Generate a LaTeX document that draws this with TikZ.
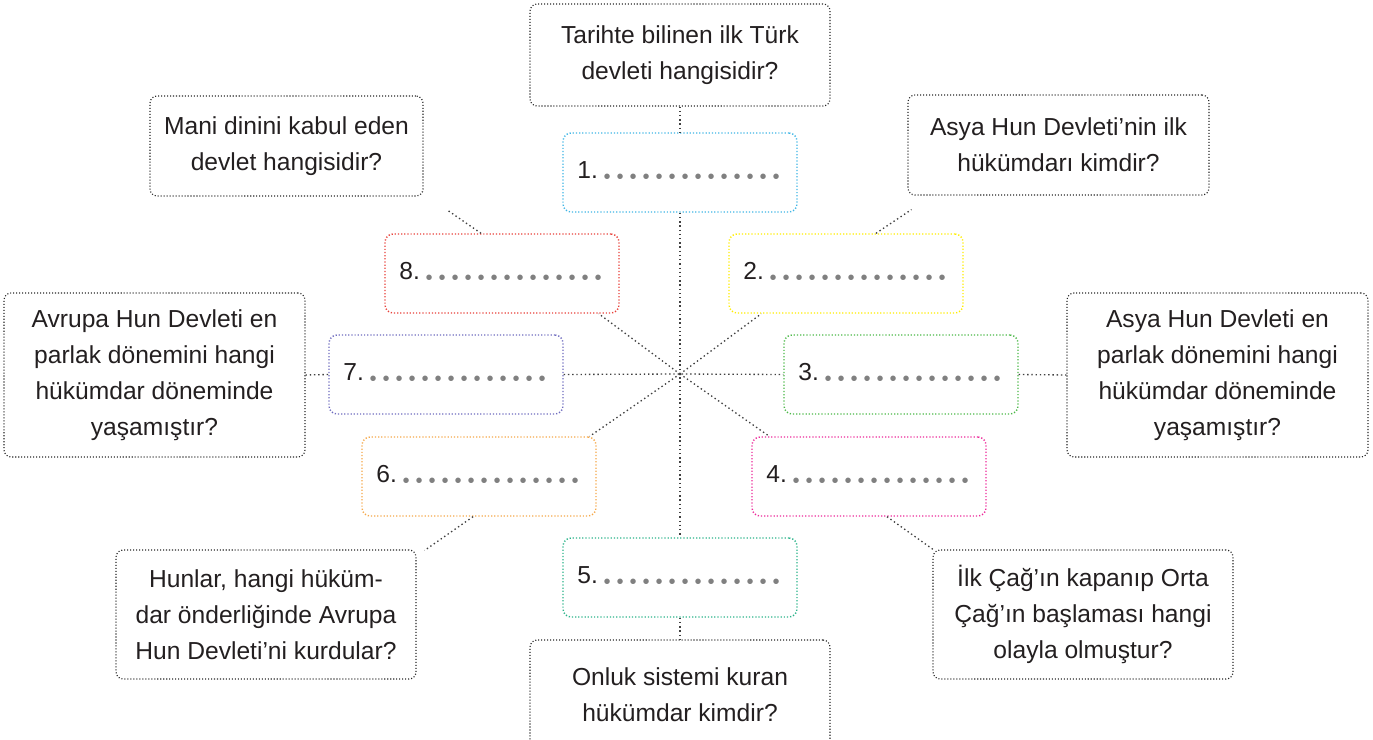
\documentclass[tikz,border=0pt]{standalone}
\usepackage{fontspec}
\setmainfont{Liberation Sans}
\usetikzlibrary{calc}
\definecolor{txtgray}{HTML}{231F20}
\definecolor{dotgray}{HTML}{808080}
\definecolor{bcyan}{HTML}{3FB5E5}
\definecolor{byellow}{HTML}{FFED00}
\definecolor{bgreen}{HTML}{4CB848}
\definecolor{bmagenta}{HTML}{EC2A9A}
\definecolor{bteal}{HTML}{2BB38A}
\definecolor{borange}{HTML}{F5A84A}
\definecolor{bpurple}{HTML}{6F6CBF}
\definecolor{bred}{HTML}{E8413A}
\newcommand{\dotrow}{{\color{dotgray}\foreach \k in {1,...,14}{\makebox[7.4pt]{\raisebox{-2.8pt}{\fontsize{11.5}{11.5}\selectfont\textbullet}}}}}
\newcommand{\blank}[1]{#1.\hspace{1.5pt}\dotrow}

\begin{document}
\begin{tikzpicture}[x=0.02cm, y=-0.02cm, font=\fontsize{14}{20.5}\selectfont, text=txtgray,
 qbox/.style={draw=black!85, dash pattern=on 0.6pt off 1.1pt, line width=0.65pt, rounded corners=0.14cm, align=center, inner sep=0pt},
 abox/.style={draw=#1, dash pattern=on 0.7pt off 1.1pt, line width=0.8pt, rounded corners=0.16cm, minimum width=4.68cm, minimum height=1.58cm, inner sep=0pt},
 link/.style={draw=black!75, dash pattern=on 0.8pt off 1.6pt, line width=0.75pt}]
 \useasboundingbox (0,0) rectangle (1373,740);
 \clip (0,0) rectangle (1373,740);
 \coordinate (c) at (680,374);
 \node[qbox, minimum width=6cm, minimum height=2.04cm] (q1) at (680,55) {Tarihte bilinen ilk Türk\\devleti hangisidir?};
 \node[qbox, minimum width=5.46cm, minimum height=2cm] (q8) at (286.5,146) {Mani dinini kabul eden\\devlet hangisidir?};
 \node[qbox, minimum width=6.02cm, minimum height=2cm] (q2) at (1058.5,145) {Asya Hun Devleti’nin ilk\\hükümdarı kimdir?};
 \node[qbox, minimum width=6.02cm, minimum height=3.28cm] (q7) at (154.5,375) {Avrupa Hun Devleti en\\parlak dönemini hangi\\hükümdar döneminde\\yaşamıştır?};
 \node[qbox, minimum width=6.02cm, minimum height=3.28cm] (q3) at (1217.5,375) {Asya Hun Devleti en\\parlak dönemini hangi\\hükümdar döneminde\\yaşamıştır?};
 \node[qbox, minimum width=6cm, minimum height=2.58cm] (q6) at (266,614.5) {Hunlar, hangi hüküm-\\dar önderliğinde Avrupa\\Hun Devleti’ni kurdular?};
 \node[qbox, minimum width=6cm, minimum height=2.58cm] (q4) at (1083,614.5) {İlk Çağ’ın kapanıp Orta\\Çağ’ın başlaması hangi\\olayla olmuştur?};
 \node[qbox, minimum width=6cm, minimum height=2.2cm] (q5) at (680,695) {Onluk sistemi kuran\\hükümdar kimdir?};
 \node[abox=bcyan] (a1) at (680,172.5) {\blank{1}};
 \node[abox=byellow] (a2) at (846,273.5) {\blank{2}};
 \node[abox=bgreen] (a3) at (901,374.5) {\blank{3}};
 \node[abox=bmagenta] (a4) at (869,476.5) {\blank{4}};
 \node[abox=bteal] (a5) at (680,577.5) {\blank{5}};
 \node[abox=borange] (a6) at (479,476.5) {\blank{6}};
 \node[abox=bpurple] (a7) at (446,374.5) {\blank{7}};
 \node[abox=bred] (a8) at (502,273.5) {\blank{8}};
 \draw[link] (q1) -- (a1);
 \draw[link] (a1) -- (c) -- (a5);
 \draw[link] (a5) -- (q5);
 \draw[link] (a7.east) -- (c) -- (a3.west);
 \draw[link] (q7.east) -- (a7.west);
 \draw[link] (a3.east) -- (q3.west);
 \draw[link] (c) -- ($(a2.south west)+(33,0)$);
 \draw[link] (c) -- ($(a8.south east)+(-21,0)$);
 \draw[link] (c) -- ($(a6.north east)+(-7,0)$);
 \draw[link] (c) -- ($(a4.north west)+(18,0)$);
 \draw[link] ($(a2.north)+(30,0)$) -- ($(q2.south west)+(4,14)$);
 \draw[link] ($(a8.north)+(-21,0)$) -- ($(q8.south east)+(23,13)$);
 \draw[link] ($(a6.south)+(-6,0)$) -- ($(q6.north east)+(8,1)$);
 \draw[link] ($(a4.south)+(18,0)$) -- ($(q4.north west)+(2,1)$);
\end{tikzpicture}
\end{document}
